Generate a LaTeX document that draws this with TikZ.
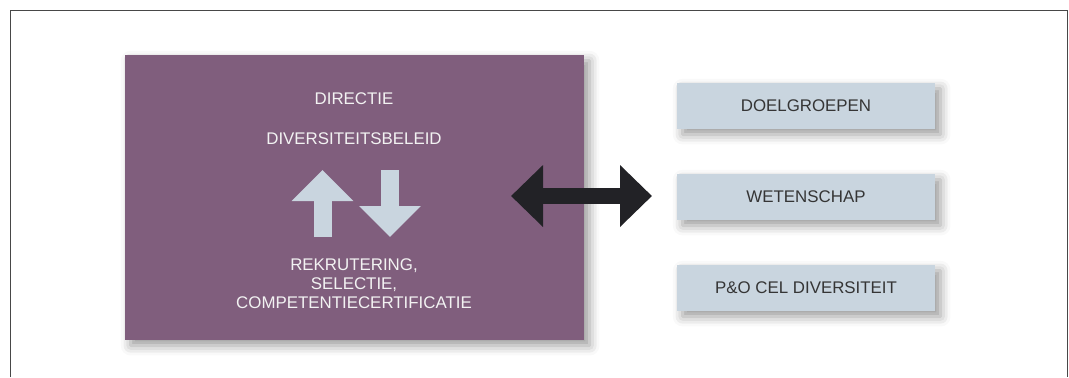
\documentclass[tikz,border=0pt]{standalone}
\usepackage{fontspec}
\setmainfont{Liberation Sans}
\usepackage{xcolor}
\usepackage{tikz}
\usetikzlibrary{arrows.meta,shadows.blur}

\definecolor{dirpurple}{HTML}{805E7D}
\definecolor{paleblue}{HTML}{C9D5DF}
\definecolor{arrowblack}{HTML}{222226}
\definecolor{framegray}{HTML}{484848}
\definecolor{labgray}{HTML}{353535}

\begin{document}
\begin{tikzpicture}[
  boxshadow/.style={blur shadow={shadow xshift=4pt, shadow yshift=-4pt,
              shadow blur radius=7pt, shadow opacity=40}},
  mainbox/.style={fill=dirpurple, minimum width=11.475cm, minimum height=7.125cm,
              inner sep=0pt, boxshadow},
  sidebox/.style={fill=paleblue, minimum width=6.45cm, minimum height=1.15cm,
              inner sep=0pt, text=labgray, boxshadow,
              font=\fontsize{12}{13.5}\selectfont},
  intext/.style={text=white!95!black, align=center, inner sep=0pt,
              font=\fontsize{12}{13.5}\selectfont},
  flowarr/.style={paleblue, line width=0.45cm,
              -{Triangle[length=0.775cm, width=1.5cm]}},
  linkarr/.style={arrowblack, line width=0.4cm,
              {Triangle[length=0.8cm, width=1.5cm]}-{Triangle[length=0.8cm, width=1.5cm]}},
]
\useasboundingbox (0,0) rectangle (26.725,-9.425);

% outer frame (open at the bottom)
\draw[framegray, line width=1.1pt] (0.2675,-9.425) -- (0.2675,-0.2675)
  -- (26.69,-0.2675) -- (26.69,-9.425);

% directie block
\node[mainbox] (directie) at (8.8625,-4.9375) {};
\node[intext] (dirtitle) at (8.85,-2.475) {DIRECTIE};
\node[intext] (beleid) at (8.85,-3.475) {DIVERSITEITSBELEID};
\node[intext] (rekrut) at (8.85,-7.1) {REKRUTERING,\\SELECTIE,\\COMPETENTIECERTIFICATIE};

% up and down arrows
\coordinate (upfoot) at (8.0625,-5.925);
\coordinate (uptip) at (8.0625,-4.25);
\coordinate (dntop) at (9.75,-4.25);
\coordinate (dntip) at (9.75,-5.925);
\draw[flowarr] (upfoot) -- (uptip);
\draw[flowarr] (dntop) -- (dntip);

% partners on the right
\node[sidebox] (doelgroepen) at (20.15,-2.65) {DOELGROEPEN};
\node[sidebox] (wetenschap) at (20.15,-4.925) {WETENSCHAP};
\node[sidebox] (pocel) at (20.15,-7.2) {P\&O CEL DIVERSITEIT};

% two-way link
\coordinate (linkleft) at (12.775,-4.9);
\coordinate (linkright) at (16.3,-4.9);
\draw[linkarr] (linkleft) -- (linkright);
\end{tikzpicture}
\end{document}
